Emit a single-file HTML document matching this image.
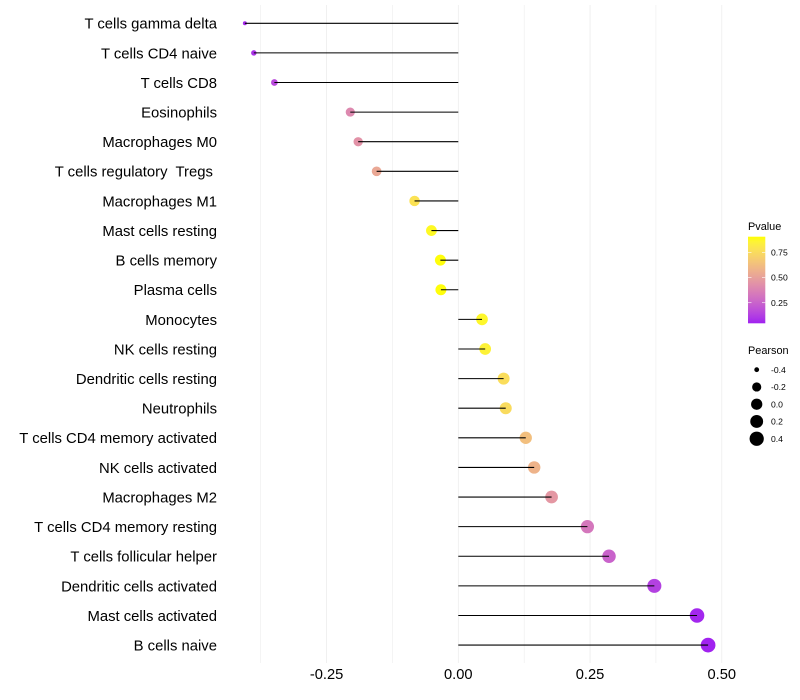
<!DOCTYPE html>
<html>
<head>
<meta charset="utf-8">
<title>Lollipop chart</title>
<style>
html,body{margin:0;padding:0;background:#fff;}
svg{display:block;font-family:"Liberation Sans",sans-serif;}
text{white-space:pre;}
</style>
</head>
<body>
<svg id="chart" width="800" height="700" viewBox="0 0 800 700" xmlns="http://www.w3.org/2000/svg">
<rect x="0" y="0" width="800" height="700" fill="#ffffff"/>
<g id="grid"></g>
<g id="points"></g>
<g id="segments"></g>
<g id="ylabels"></g>
<g id="xlabels"></g>
<g id="legend-color">
<text x="748" y="230" font-size="10.9" fill="#000">Pvalue</text>
<defs><linearGradient id="cbar" x1="0" y1="1" x2="0" y2="0"></linearGradient></defs>
<rect x="748" y="236.7" width="17.3" height="86.6" fill="url(#cbar)"/>
</g>
<g id="legend-size">
<text x="748" y="354" font-size="10.9" fill="#000">Pearson</text>
</g>
</svg>
<script>
const categories = ["T cells gamma delta","T cells CD4 naive","T cells CD8","Eosinophils","Macrophages M0","T cells regulatory  Tregs ","Macrophages M1","Mast cells resting","B cells memory","Plasma cells","Monocytes","NK cells resting","Dendritic cells resting","Neutrophils","T cells CD4 memory activated","NK cells activated","Macrophages M2","T cells CD4 memory resting","T cells follicular helper","Dendritic cells activated","Mast cells activated","B cells naive"];
const pearson = [-0.405,-0.388,-0.349,-0.205,-0.19,-0.155,-0.083,-0.051,-0.034,-0.033,0.045,0.051,0.086,0.09,0.128,0.144,0.177,0.245,0.286,0.372,0.453,0.474];
const pvalue = [0.07,0.09,0.16,0.40,0.44,0.53,0.78,0.88,0.90,0.90,0.87,0.85,0.76,0.75,0.63,0.58,0.46,0.33,0.25,0.13,0.06,0.05];
const xTicks = [-0.25,0,0.25,0.5];
const xTickLabels = ["-0.25","0.00","0.25","0.50"];
const xMinorBreaks = [-0.375,-0.125,0.125,0.375];
const colorTicks = [0.25,0.5,0.75];
const colorTickLabels = ["0.25","0.50","0.75"];
const colorDomain = [0.046,0.905];
const sizeDomain = [-0.405,0.474];
const sizeBreaks = [-0.4,-0.2,0,0.2,0.4];
const sizeLabels = ["-0.4","-0.2","0.0","0.2","0.4"];

const NS = "http://www.w3.org/2000/svg";
function make(tag, attrs, parent){
  const el = document.createElementNS(NS, tag);
  for (const k in attrs) el.setAttribute(k, attrs[k]);
  parent.appendChild(el);
  return el;
}
function xScale(v){ return 458.3 + v * 527; }
function yScale(i){ return 23.28 + i * 29.61; }
function rScale(v){
  const t = Math.max(0, (v - sizeDomain[0]) / (sizeDomain[1] - sizeDomain[0]));
  return 2 + 5.35 * Math.sqrt(t);
}
function cbarY(p){ return 323.3 - (p - colorDomain[0]) / (colorDomain[1] - colorDomain[0]) * 86.6; }

function rgb2lab(c){
  const f = x => { x /= 255; return x > 0.04045 ? Math.pow((x + 0.055) / 1.055, 2.4) : x / 12.92; };
  const r = f(c[0]), g = f(c[1]), b = f(c[2]);
  const X = (0.4124 * r + 0.3576 * g + 0.1805 * b) / 0.95047;
  const Y = 0.2126 * r + 0.7152 * g + 0.0722 * b;
  const Z = (0.0193 * r + 0.1192 * g + 0.9505 * b) / 1.08883;
  const h = t => t > 0.008856 ? Math.cbrt(t) : 7.787 * t + 16 / 116;
  return [116 * h(Y) - 16, 500 * (h(X) - h(Y)), 200 * (h(Y) - h(Z))];
}
function lab2rgb(l){
  const fy = (l[0] + 16) / 116, fx = l[1] / 500 + fy, fz = fy - l[2] / 200;
  const h = t => t * t * t > 0.008856 ? t * t * t : (t - 16 / 116) / 7.787;
  const X = 0.95047 * h(fx), Y = h(fy), Z = 1.08883 * h(fz);
  const g = x => { x = x > 0.0031308 ? 1.055 * Math.pow(x, 1 / 2.4) - 0.055 : 12.92 * x; return Math.round(Math.min(1, Math.max(0, x)) * 255); };
  return "rgb(" + g(3.2406 * X - 1.5372 * Y - 0.4986 * Z) + "," + g(-0.9689 * X + 1.8758 * Y + 0.0415 * Z) + "," + g(0.0557 * X - 0.204 * Y + 1.057 * Z) + ")";
}
const labLow = rgb2lab([160, 32, 240]);
const labHigh = rgb2lab([255, 255, 0]);
function colorT(t){
  return lab2rgb([0, 1, 2].map(i => labLow[i] + (labHigh[i] - labLow[i]) * t));
}
function colorScale(p){
  return colorT(Math.min(1, Math.max(0, (p - colorDomain[0]) / (colorDomain[1] - colorDomain[0]))));
}

const gridG = document.getElementById("grid");
xMinorBreaks.forEach(function(b){
  const ln = make("line", {x1: xScale(b), x2: xScale(b), y1: 5, y2: 663, stroke: "#ebebeb", "stroke-width": 0.55}, gridG);
  
  
});
xTicks.forEach(function(b){
  const ln = make("line", {x1: xScale(b), x2: xScale(b), y1: 5, y2: 663, stroke: "#ededed", "stroke-width": 0.8}, gridG);
  
  
});

const pointsG = document.getElementById("points");
const segsG = document.getElementById("segments");
const yG = document.getElementById("ylabels");
categories.forEach(function(name, i){
  const c = make("circle", {cx: xScale(pearson[i]), cy: yScale(i), r: rScale(pearson[i]), fill: colorScale(pvalue[i])}, pointsG);
  
  
  const s = make("line", {x1: xScale(0), x2: xScale(pearson[i]), y1: yScale(i), y2: yScale(i), stroke: "#000", "stroke-width": 1.07}, segsG);
  
  
  const t = make("text", {x: 217, y: yScale(i) + 5.4, "text-anchor": "end", "font-size": 14.85, fill: "#000"}, yG);
  
  
  t.setAttribute('xml:space', 'preserve');
  t.textContent = name;
});

const xG = document.getElementById("xlabels");
xTicks.forEach(function(b, i){
  const t = make("text", {x: xScale(b), y: 679, "text-anchor": "middle", "font-size": 14.67, fill: "#000"}, xG);
  
  
  t.textContent = xTickLabels[i];
});

const grad = document.getElementById("cbar");
for (let k = 0; k <= 20; k++) {
  make("stop", {offset: k / 20, "stop-color": colorT(k / 20)}, grad);
}
const lc = document.getElementById("legend-color");
colorTicks.forEach(function(p, i){
  const y = cbarY(p);
  const a = make("line", {x1: 748, x2: 751.5, y1: y, y2: y, stroke: "#fff", "stroke-width": 0.6}, lc);
  
  
  const b = make("line", {x1: 762, x2: 765.3, y1: y, y2: y, stroke: "#fff", "stroke-width": 0.6}, lc);
  
  
  const t = make("text", {x: 771, y: y + 3.2, "font-size": 8.6, fill: "#000"}, lc);
  
  
  t.textContent = colorTickLabels[i];
});

const ls = document.getElementById("legend-size");
sizeBreaks.forEach(function(v, i){
  const y = 369.7 + i * 17.25;
  const c = make("circle", {cx: 756.7, cy: y, r: rScale(v), fill: "#000"}, ls);
  
  
  const t = make("text", {x: 771, y: y + 3.2, "font-size": 8.6, fill: "#000"}, ls);
  
  
  t.textContent = sizeLabels[i];
});
</script>
</body>
</html>
